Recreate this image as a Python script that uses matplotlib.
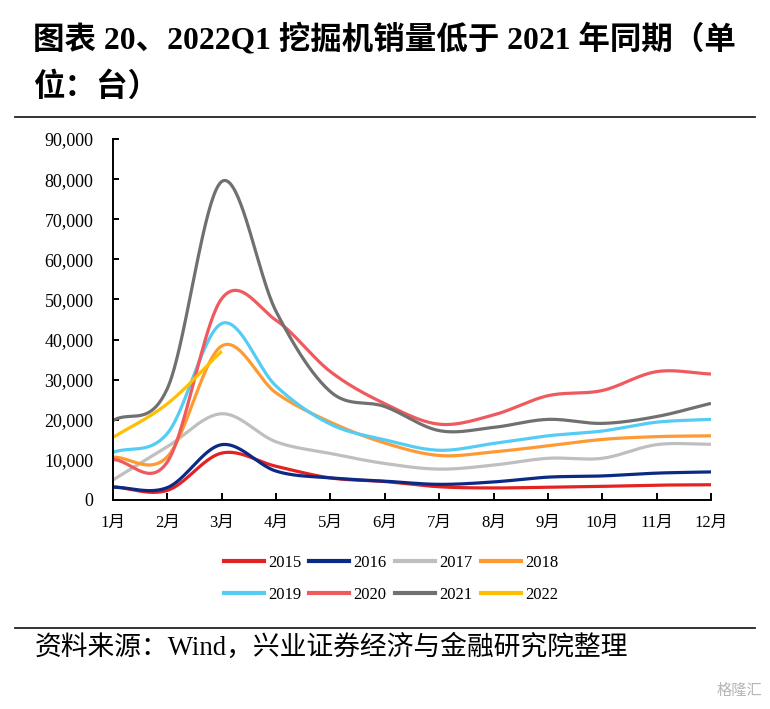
import numpy as np
import matplotlib
matplotlib.use('Agg')
import matplotlib.pyplot as plt
from matplotlib.lines import Line2D
from matplotlib.ticker import FuncFormatter, MultipleLocator

plt.rcParams['font.family'] = ['Liberation Serif', 'Noto Sans CJK SC', 'DejaVu Sans']

months = ['1月', '2月', '3月', '4月', '5月', '6月', '7月', '8月', '9月', '10月', '11月', '12月']
years = ['2015', '2016', '2017', '2018', '2019', '2020', '2021', '2022']

s2015 = [3300, 2400, 11700, 8400, 5500, 4600, 3300, 3000, 3200, 3400, 3700, 3800]
s2016 = [3200, 3100, 13800, 7200, 5500, 4700, 3900, 4500, 5700, 6000, 6700, 7000]
s2017 = [5000, 13300, 21500, 14500, 11600, 9100, 7700, 8700, 10400, 10400, 13800, 13900]
s2018 = [10700, 10800, 38400, 26700, 19400, 14200, 11100, 12000, 13500, 15100, 15800, 16000]
s2019 = [11900, 16600, 44000, 28400, 18900, 15000, 12400, 14100, 16000, 17200, 19400, 20100]
s2020 = [10100, 9500, 50200, 44800, 32000, 24000, 18900, 21200, 26000, 27300, 32000, 31400]
s2021 = [19800, 27800, 79400, 47000, 27000, 23300, 17300, 18100, 20100, 19100, 20800, 24100]
s2022 = [15600, 24000, 37100]

series = [s2015, s2016, s2017, s2018, s2019, s2020, s2021, s2022]
colors = ['#E32222', '#0B2A85', '#BFBFBF', '#FF9A33', '#55CCF4', '#EE5A5E', '#707070', '#FFBF00']


def smooth(vals, per=40):
    """Catmull-Rom (Excel-like) smoothing through the data points."""
    p = np.asarray(vals, dtype=float)
    n = len(p)
    m = np.zeros(n)
    for i in range(n):
        if i == 0:
            m[i] = p[1] - p[0]
        elif i == n - 1:
            m[i] = p[-1] - p[-2]
        else:
            m[i] = (p[i + 1] - p[i - 1]) / 2.0
    xs, ys = [], []
    t = np.linspace(0, 1, per, endpoint=False)
    h00 = 2 * t**3 - 3 * t**2 + 1
    h10 = t**3 - 2 * t**2 + t
    h01 = -2 * t**3 + 3 * t**2
    h11 = t**3 - t**2
    for i in range(n - 1):
        xs.append(i + t)
        ys.append(h00 * p[i] + h10 * m[i] + h01 * p[i + 1] + h11 * m[i + 1])
    xs.append(np.array([n - 1]))
    ys.append(np.array([p[-1]]))
    return np.concatenate(xs), np.concatenate(ys)


fig = plt.figure(figsize=(7.70, 7.09), dpi=100)
ax = fig.add_axes([113 / 770, 1 - 500 / 709, 598 / 770, 361 / 709])

for vals, c, lab in zip(series, colors, years):
    x, y = smooth(vals)
    ax.plot(x, y, color=c, lw=2.3, label=lab, solid_capstyle='butt')

ax.set_xlim(0, 11)
ax.set_ylim(0, 90000)
ax.yaxis.set_major_locator(MultipleLocator(10000))
ax.yaxis.set_major_formatter(FuncFormatter(lambda v, p: f'{int(v):,}'))
ax.set_xticks(range(12))
ax.set_xticklabels(months)

for s in ['top', 'right']:
    ax.spines[s].set_visible(False)
for s in ['left', 'bottom']:
    ax.spines[s].set_linewidth(1.4)
    ax.spines[s].set_color('black')

ax.tick_params(axis='y', direction='in', length=4, width=1.4, pad=14, labelsize=13)
ax.tick_params(axis='x', direction='in', length=5, width=1.4, pad=11, labelsize=12)

# legend filled row by row (matplotlib fills column-wise)
order = [0, 4, 1, 5, 2, 6, 3, 7]
handles = [Line2D([0], [0], color=colors[i], lw=3) for i in order]
labels = [years[i] for i in order]
fig.legend(handles, labels, ncol=4, loc='center', bbox_to_anchor=(391 / 770, 1 - 579 / 709),
           frameon=False, fontsize=12, handlelength=2.4, handletextpad=0.25,
           columnspacing=0.5, labelspacing=0.95)

# title
fig.text(33 / 770, 1 - 40 / 709, '图表 20、2022Q1 挖掘机销量低于 2021 年同期（单',
         fontsize=22.7, fontweight='bold', va='center', ha='left')
fig.text(33 / 770, 1 - 88 / 709, '位：台）',
         fontsize=22.7, fontweight='bold', va='center', ha='left')

# separators
fig.add_artist(Line2D([15 / 770, 755 / 770], [1 - 117 / 709, 1 - 117 / 709], color='#222222', lw=1.3))
fig.add_artist(Line2D([15 / 770, 755 / 770], [1 - 628 / 709, 1 - 628 / 709], color='#222222', lw=1.3))

# source
fig.text(35 / 770, 1 - 648 / 709, '资料来源：Wind，兴业证券经济与金融研究院整理',
         fontsize=19.3, va='center', ha='left')

# watermark
fig.text(762 / 770, 1 - 690 / 709, '格隆汇', fontsize=11, color='#B5B5B5',
         va='center', ha='right', family=['Noto Sans CJK SC'])

fig.savefig('out.png', dpi=100)
